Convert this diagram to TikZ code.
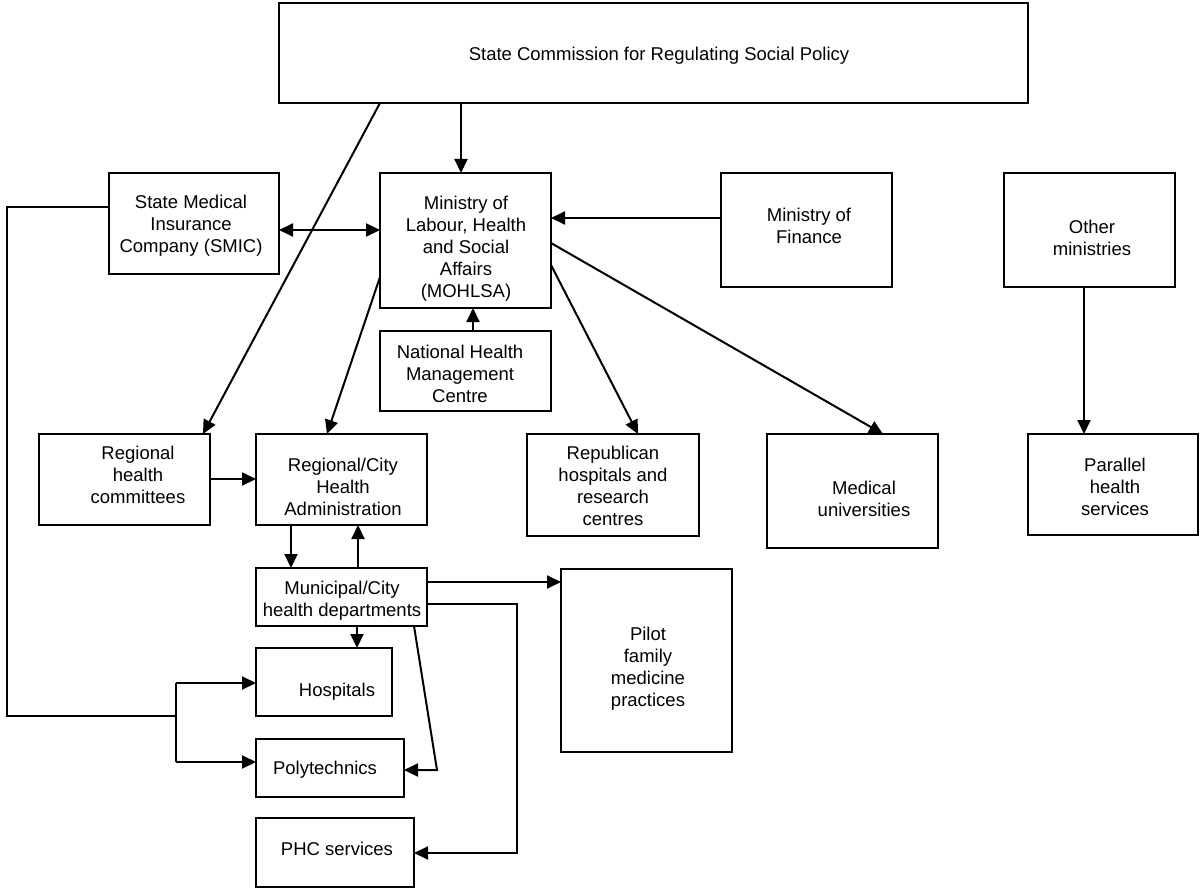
\documentclass[tikz,border=0pt]{standalone}
\usepackage{fontspec}
\setmainfont{Liberation Sans}
\usetikzlibrary{arrows.meta}
\begin{document}
\begin{tikzpicture}[x=1pt,y=-1pt,
  box/.style={draw, line width=2pt, inner sep=0pt, outer sep=0pt},
  txt/.style={align=center, inner sep=0pt, font=\fontsize{18.5pt}{22pt}\selectfont},
  arr/.style={line width=2pt, -{Triangle[length=14pt,width=13pt]}},
  darr/.style={line width=2pt, {Triangle[length=14pt,width=13pt]}-{Triangle[length=14pt,width=13pt]}},
  ln/.style={line width=2pt}]
\useasboundingbox (0,0) rectangle (1200,888);
\fill[white] (0,0) rectangle (1200,888);
% boxes
\node[box, minimum width=749pt, minimum height=100pt] (top) at (653.5,53) {};
\node[box, minimum width=170pt, minimum height=101pt] (smic) at (194,223.5) {};
\node[box, minimum width=171pt, minimum height=135pt] (mohlsa) at (465.5,240.5) {};
\node[box, minimum width=171pt, minimum height=114pt] (fin) at (806.5,230) {};
\node[box, minimum width=171pt, minimum height=114pt] (other) at (1089.5,230) {};
\node[box, minimum width=171pt, minimum height=80pt] (nhmc) at (465.5,371) {};
\node[box, minimum width=171pt, minimum height=91pt] (rhc) at (124.5,479.5) {};
\node[box, minimum width=171pt, minimum height=91pt] (rcha) at (341.5,479.5) {};
\node[box, minimum width=172pt, minimum height=102pt] (rep) at (613,485) {};
\node[box, minimum width=171pt, minimum height=114pt] (med) at (852.5,491) {};
\node[box, minimum width=170pt, minimum height=101pt] (par) at (1113,484.5) {};
\node[box, minimum width=171pt, minimum height=58pt] (mun) at (341.5,597) {};
\node[box, minimum width=171pt, minimum height=183pt] (pilot) at (646.5,660.5) {};
\node[box, minimum width=136pt, minimum height=68pt] (hosp) at (324,682) {};
\node[box, minimum width=148pt, minimum height=58pt] (poly) at (330,768) {};
\node[box, minimum width=158pt, minimum height=69pt] (phc) at (335,852.5) {};
% texts
\node[txt] (ttop) at (659,56) {State Commission for Regulating Social Policy};
\node[txt] (tsmic) at (191,226) {State Medical\\Insurance\\Company (SMIC)};
\node[txt] (tmohlsa) at (466,249) {Ministry of\\Labour, Health\\and Social\\Affairs\\(MOHLSA)};
\node[txt] (tnhmc) at (460,374) {National Health\\Management\\Centre};
\node[txt] (tfin) at (809,226) {Ministry of\\Finance};
\node[txt] (tother) at (1092,238) {Other\\ministries};
\node[txt] (trhc) at (138,475) {Regional\\health\\committees};
\node[txt] (trcha) at (343,487) {Regional/City\\Health\\Administration};
\node[txt] (trep) at (613,486) {Republican\\hospitals and\\research\\centres};
\node[txt] (tmed) at (864,499) {Medical\\universities};
\node[txt] (tpar) at (1115,487) {Parallel\\health\\services};
\node[txt] (tmun) at (342,601) {Municipal/City\\health departments};
\node[txt] (tpilot) at (648,669) {Pilot\\family\\medicine\\practices};
\node[txt] (thosp) at (337,692) {Hospitals};
\node[txt] (tpoly) at (325,770) {Polytechnics};
\node[txt] (tphc) at (337,849) {PHC services};
% connectors
\draw[arr] (461,0 |- top.south) -- (461,0 |- mohlsa.north);
\draw[arr] (380,0 |- top.south) -- (203,0 |- rhc.north);
\draw[darr] (smic.east |- 0,230) -- (mohlsa.west |- 0,230);
\coordinate (b1) at (176,683);
\coordinate (b2) at (176,762);
\draw[ln] (smic.west |- 0,207) -- (7,207) -- (7,716) -- (176,716);
\draw[ln] (b1) -- (b2);
\draw[arr] (b1) -- (hosp.west |- b1);
\draw[arr] (b2) -- (poly.west |- b2);
\draw[arr] (mohlsa.west |- 0,277) -- (327,0 |- rcha.north);
\draw[arr] (473,0 |- nhmc.north) -- (473,0 |- mohlsa.south);
\draw[arr] (fin.west |- 0,218) -- (mohlsa.east |- 0,218);
\draw[arr] (mohlsa.east |- 0,243) -- (883,0 |- med.north);
\draw[arr] (mohlsa.east |- 0,265) -- (638,0 |- rep.north);
\draw[arr] (rhc.east |- 0,479) -- (rcha.west |- 0,479);
\draw[arr] (291,0 |- rcha.south) -- (291,0 |- mun.north);
\draw[arr] (358,0 |- mun.north) -- (358,0 |- rcha.south);
\draw[arr] (357,0 |- mun.south) -- (357,0 |- hosp.north);
\draw[arr] (mun.east |- 0,582) -- (pilot.west |- 0,582);
\draw[arr] (mun.east |- 0,604) -- (517,604) -- (517,853) -- (phc.east |- 0,853);
\draw[arr] (414,0 |- mun.south) -- (437,770) -- (poly.east |- 0,770);
\draw[arr] (1084,0 |- other.south) -- (1084,0 |- par.north);
\end{tikzpicture}
\end{document}
